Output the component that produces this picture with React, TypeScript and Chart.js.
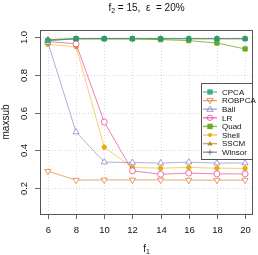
import React, { useEffect, useRef } from "react";
import { Chart, registerables } from "chart.js";
Chart.register(...registerables);

const fValues = [6, 8, 10, 12, 14, 16, 18, 20];
const xTicks = [6, 8, 10, 12, 14, 16, 18, 20];
const yTicks = [0.2, 0.4, 0.6, 0.8, 1.0];
const yTickLabels = ["0.2", "0.4", "0.6", "0.8", "1.0"];

const cpca = [0.98, 0.99, 0.99, 0.99, 0.99, 0.99, 0.99, 0.99];
const robpca = [0.29, 0.243, 0.244, 0.244, 0.244, 0.243, 0.243, 0.243];
const ball = [0.97, 0.497, 0.338, 0.336, 0.333, 0.338, 0.333, 0.333];
const lr = [0.975, 0.963, 0.55, 0.292, 0.274, 0.28, 0.276, 0.276];
const quad = [0.98, 0.99, 0.99, 0.99, 0.985, 0.98, 0.967, 0.936];
const shell = [0.96, 0.947, 0.417, 0.31, 0.306, 0.31, 0.306, 0.305];
const sscm = [0.985, 0.99, 0.99, 0.99, 0.99, 0.99, 0.99, 0.99];
const winsor = [0.985, 0.99, 0.99, 0.99, 0.99, 0.99, 0.99, 0.99];

const seriesNames = ["CPCA", "ROBPCA", "Ball", "LR", "Quad", "Shell", "SSCM", "Winsor"];
const seriesData = [cpca, robpca, ball, lr, quad, shell, sscm, winsor];
const lineColors = [
  "rgba(27,158,119,0.6)",
  "rgba(217,95,2,0.55)",
  "rgba(117,112,179,0.55)",
  "rgba(231,41,138,0.6)",
  "rgba(102,166,30,0.75)",
  "rgba(230,171,2,0.55)",
  "rgba(166,118,29,0.6)",
  "rgba(102,102,102,0.6)",
];
const pointColors = [
  "rgba(27,158,119,0.8)",
  "rgba(217,95,2,0.6)",
  "rgba(117,112,179,0.65)",
  "rgba(231,41,138,0.65)",
  "rgba(102,166,30,0.95)",
  "rgba(230,171,2,0.95)",
  "rgba(166,118,29,0.8)",
  "rgba(102,102,102,0.8)",
];
const pointStyles = ["rect", "triangle", "triangle", "circle", "rect", "circle", "triangle", "cross"];
const pointRotations = [0, 180, 0, 0, 0, 0, 0, 0];
const pointFilled = [true, false, false, false, true, true, true, false];
const pointRadii = [3, 3.5, 3.5, 3, 3, 2.2, 3, 3];

const FONT = "'Liberation Sans', Arial, Helvetica, sans-serif";

function drawMarker(ctx: CanvasRenderingContext2D, i: number, x: number, y: number) {
  ctx.save();
  ctx.fillStyle = pointColors[i];
  ctx.strokeStyle = pointColors[i];
  ctx.lineWidth = 1;
  const r = pointRadii[i] * 0.9;
  const st = pointStyles[i];
  if (st === "rect") {
    ctx.fillRect(x - r, y - r, 2 * r, 2 * r);
  } else if (st === "circle") {
    ctx.beginPath();
    ctx.arc(x, y, r, 0, Math.PI * 2);
    if (pointFilled[i]) ctx.fill();
    else ctx.stroke();
  } else if (st === "triangle") {
    const dir = pointRotations[i] === 180 ? -1 : 1;
    ctx.beginPath();
    ctx.moveTo(x, y - dir * r);
    ctx.lineTo(x - r, y + dir * r * 0.7);
    ctx.lineTo(x + r, y + dir * r * 0.7);
    ctx.closePath();
    if (pointFilled[i]) ctx.fill();
    else ctx.stroke();
  } else if (st === "cross") {
    ctx.beginPath();
    ctx.moveTo(x - r, y);
    ctx.lineTo(x + r, y);
    ctx.moveTo(x, y - r);
    ctx.lineTo(x, y + r);
    ctx.stroke();
  }
  ctx.restore();
}

const axisPlugin = {
  id: "rAxes",
  beforeDatasetsDraw(chart: any) {
    const { ctx, chartArea } = chart;
    const xs = chart.scales.x;
    const ys = chart.scales.y;
    ctx.save();
    ctx.strokeStyle = "#d9d9d9";
    ctx.lineWidth = 1;
    ctx.setLineDash([1, 2]);
    xTicks.forEach((t) => {
      const px = Math.round(xs.getPixelForValue(t)) + 0.5;
      ctx.beginPath();
      ctx.moveTo(px, chartArea.top);
      ctx.lineTo(px, chartArea.bottom);
      ctx.stroke();
    });
    yTicks.forEach((t) => {
      const py = Math.round(ys.getPixelForValue(t)) + 0.5;
      ctx.beginPath();
      ctx.moveTo(chartArea.left, py);
      ctx.lineTo(chartArea.right, py);
      ctx.stroke();
    });
    ctx.restore();
  },
  afterDraw(chart: any) {
    const { ctx, chartArea } = chart;
    const xs = chart.scales.x;
    const ys = chart.scales.y;
    ctx.save();
    // box
    ctx.strokeStyle = "#555555";
    ctx.lineWidth = 1;
    ctx.setLineDash([]);
    ctx.strokeRect(
      Math.round(chartArea.left) + 0.5,
      Math.round(chartArea.top) + 0.5,
      Math.round(chartArea.right - chartArea.left) - 1,
      Math.round(chartArea.bottom - chartArea.top)
    );
    // ticks
    ctx.strokeStyle = "#666666";
    ctx.fillStyle = "#111111";
    ctx.font = `9.5px ${FONT}`;
    ctx.textAlign = "center";
    ctx.textBaseline = "middle";
    xTicks.forEach((t) => {
      const px = Math.round(xs.getPixelForValue(t)) + 0.5;
      ctx.beginPath();
      ctx.moveTo(px, chartArea.bottom);
      ctx.lineTo(px, chartArea.bottom + 5);
      ctx.stroke();
      ctx.fillText(String(t), px, chartArea.bottom + 16);
    });
    yTicks.forEach((t, i) => {
      const py = Math.round(ys.getPixelForValue(t)) + 0.5;
      ctx.beginPath();
      ctx.moveTo(chartArea.left - 5, py);
      ctx.lineTo(chartArea.left, py);
      ctx.stroke();
      ctx.save();
      ctx.translate(chartArea.left - 16, py);
      ctx.rotate(-Math.PI / 2);
      ctx.fillText(yTickLabels[i], 0, 0);
      ctx.restore();
    });
    // axis titles
    const cx = (chartArea.left + chartArea.right) / 2;
    ctx.fillStyle = "#111111";
    ctx.textAlign = "left";
    ctx.font = `10px ${FONT}`;
    const fw = ctx.measureText("f").width;
    ctx.font = `7px ${FONT}`;
    const sw = ctx.measureText("1").width;
    const sx = cx - (fw + sw) / 2;
    ctx.font = `10px ${FONT}`;
    ctx.fillText("f", sx, 249);
    ctx.font = `7px ${FONT}`;
    ctx.fillText("1", sx + fw, 252);
    // y title
    ctx.save();
    ctx.font = `10px ${FONT}`;
    ctx.textAlign = "center";
    ctx.translate(6, (chartArea.top + chartArea.bottom) / 2);
    ctx.rotate(-Math.PI / 2);
    ctx.fillText("maxsub", 0, 0);
    ctx.restore();
    // title
    const parts: [string, number, number][] = [
      ["f", 10, 0],
      ["2", 7, 3],
      [" = 15,  \u03b5  = 20%", 10, 0],
    ];
    let total = 0;
    parts.forEach(([s, sz]) => {
      ctx.font = `${sz}px ${FONT}`;
      total += ctx.measureText(s).width;
    });
    let tx = cx - total / 2;
    ctx.textAlign = "left";
    parts.forEach(([s, sz, dy]) => {
      ctx.font = `${sz}px ${FONT}`;
      ctx.fillText(s, tx, 8 + dy);
      tx += ctx.measureText(s).width;
    });
    // legend
    const lx = 201, ly = 83, lw = Math.round(chartArea.right) - 201, lh = 76;
    ctx.fillStyle = "#ffffff";
    ctx.fillRect(lx, ly, lw, lh);
    ctx.strokeStyle = "#555555";
    ctx.lineWidth = 1;
    ctx.strokeRect(lx + 0.5, ly + 0.5, lw - 1, lh);
    ctx.font = `8px ${FONT}`;
    ctx.textBaseline = "middle";
    seriesNames.forEach((name, i) => {
      const yy = 92 + i * 8.6;
      ctx.strokeStyle = lineColors[i];
      ctx.lineWidth = 1.5;
      ctx.beginPath();
      ctx.moveTo(203, yy);
      ctx.lineTo(217, yy);
      ctx.stroke();
      ctx.lineWidth = 1;
      drawMarker(ctx, i, 210, yy);
      ctx.fillStyle = "#111111";
      ctx.fillText(name, 222, yy + 0.5);
    });
    ctx.restore();
  },
};

export default function App() {
  const ref = useRef<HTMLCanvasElement>(null);
  useEffect(() => {
    document.body.style.margin = "0";
    const canvas = ref.current!;
    const datasets = seriesNames.map((name, i) => ({
      label: name,
      data: fValues.map((f, j) => ({ x: f, y: seriesData[i][j] })),
      borderColor: lineColors[i],
      borderWidth: 1,
      pointStyle: pointStyles[i] as any,
      pointRotation: pointRotations[i],
      pointRadius: pointRadii[i],
      pointBorderWidth: 1,
      pointBorderColor: pointColors[i],
      pointBackgroundColor: pointFilled[i] ? pointColors[i] : "rgba(255,255,255,1)",
      showLine: true,
      fill: false,
      tension: 0,
    }));
    const chart = new Chart(canvas, {
      type: "scatter",
      data: { datasets },
      options: {
        responsive: false,
        devicePixelRatio: 1,
        animation: false,
        layout: { padding: { left: 40, right: 1, top: 30, bottom: 41 } },
        plugins: { legend: { display: false }, tooltip: { enabled: false }, title: { display: false } },
        scales: {
          x: { type: "linear", min: 5.44, max: 20.56, display: false },
          y: { type: "linear", min: 0.064, max: 1.036, display: false },
        },
      },
      plugins: [axisPlugin],
    });
    return () => chart.destroy();
  }, []);
  return <canvas ref={ref} width={258} height={255} style={{ display: "block" }} />;
}
